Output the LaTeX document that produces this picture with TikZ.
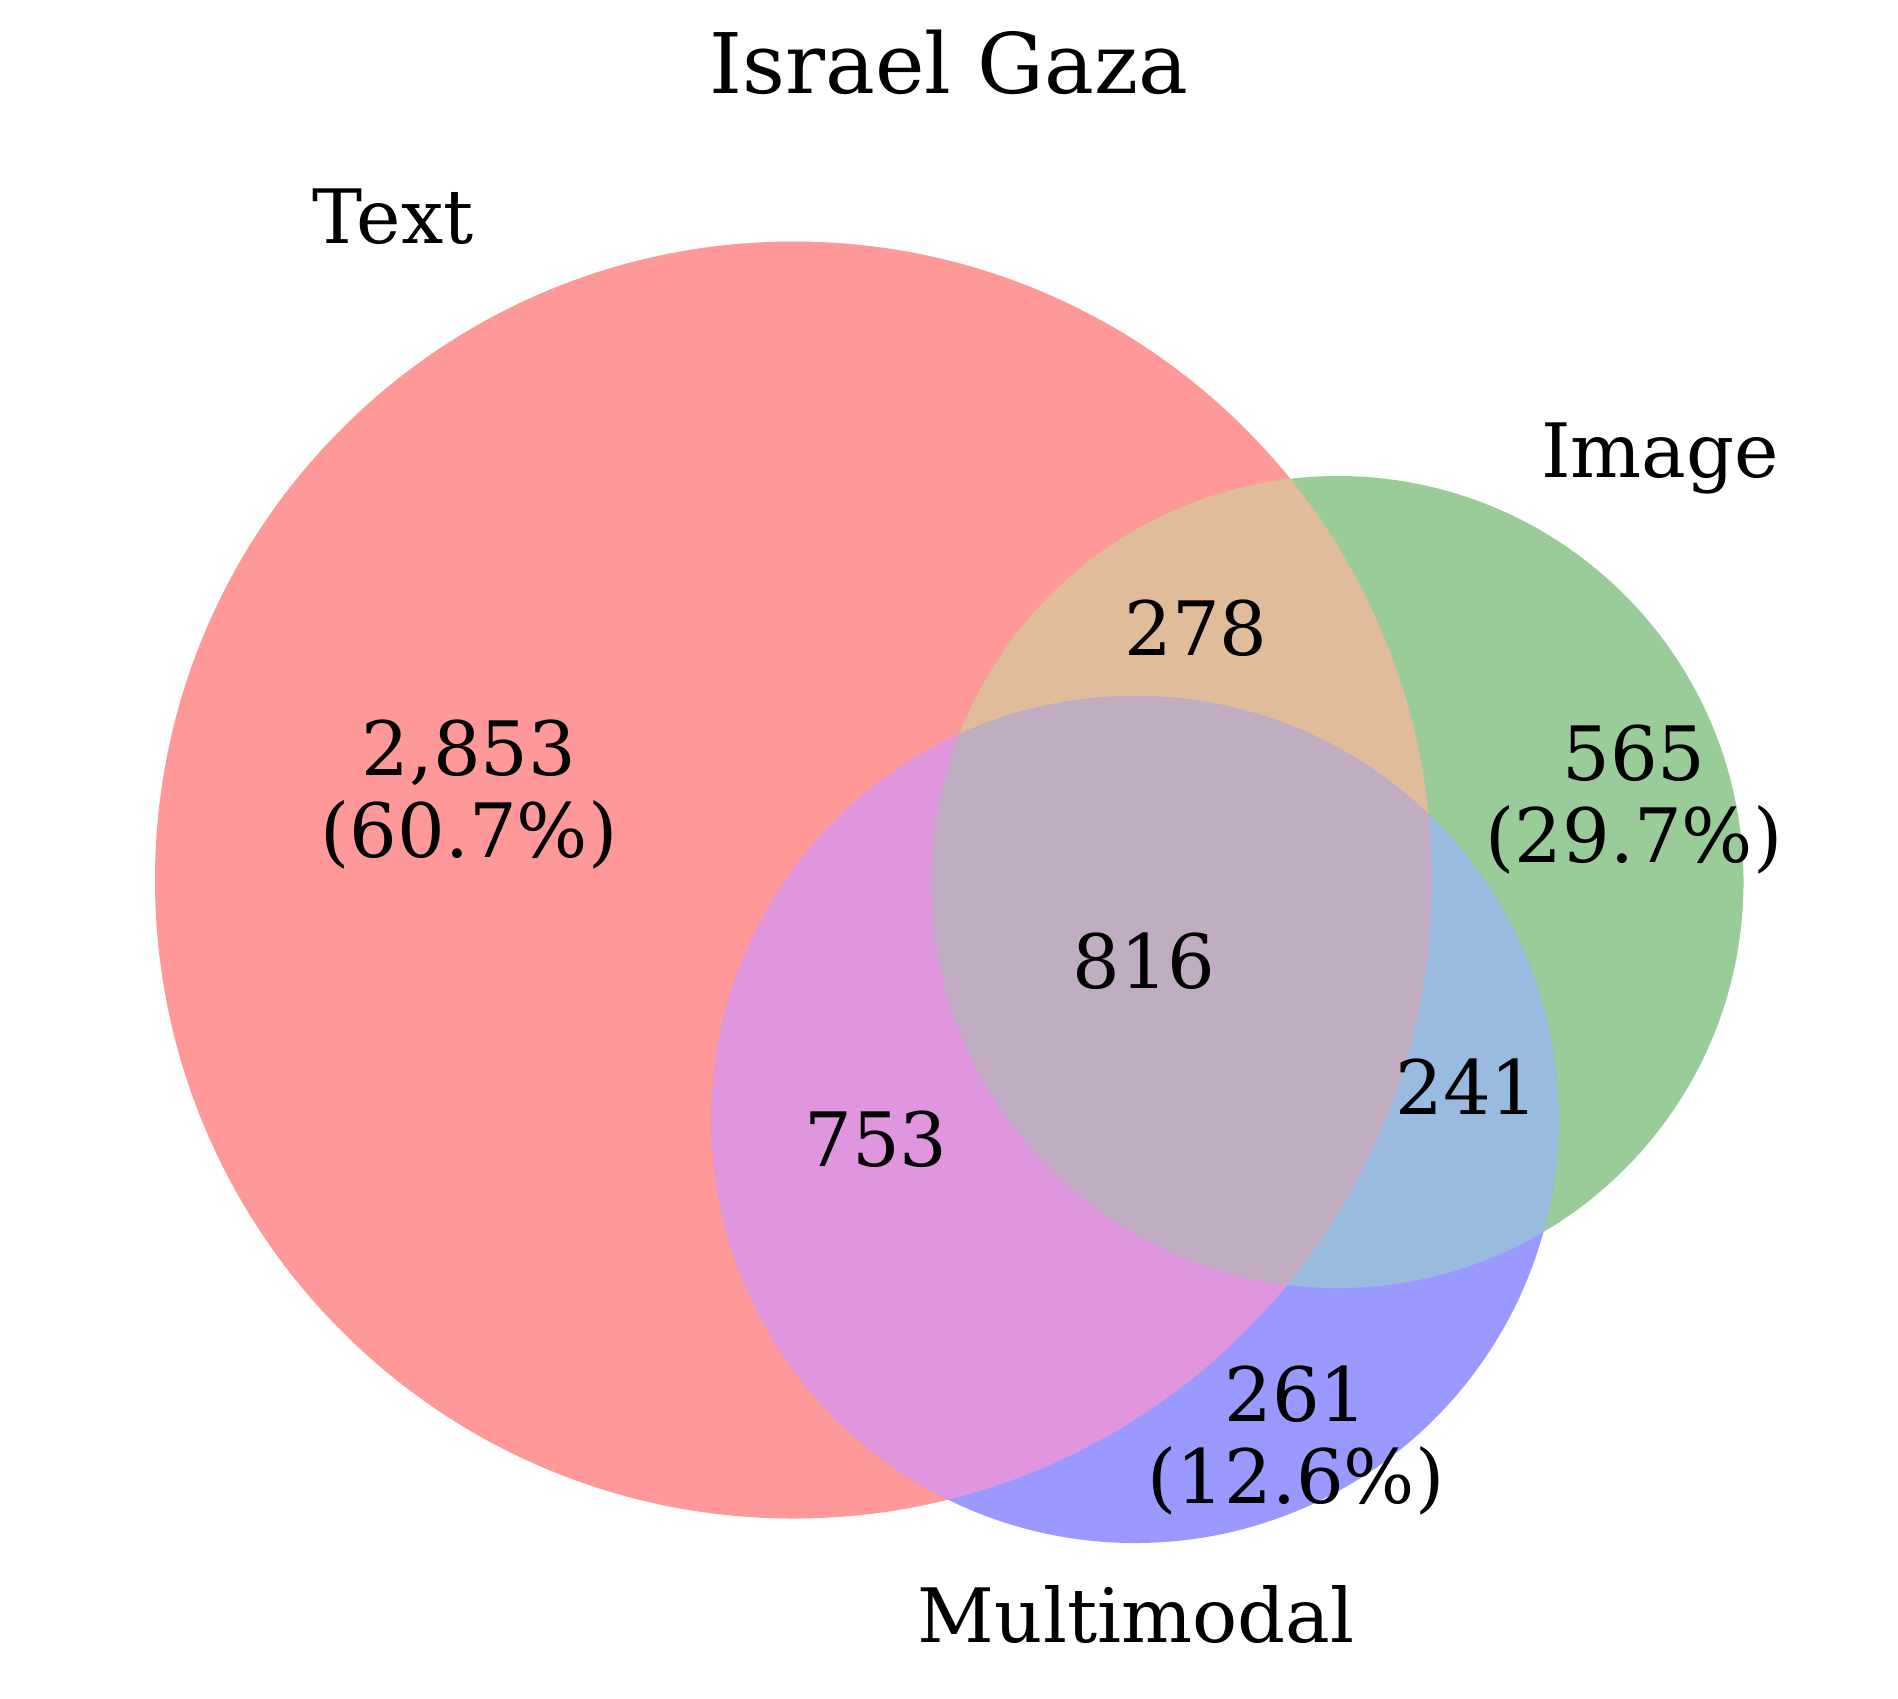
\documentclass[tikz,border=0pt]{standalone}
\usepackage{fontspec}
\setmainfont{DejaVu Serif}
\definecolor{cT}{HTML}{FF9898}
\definecolor{cI}{HTML}{99CC99}
\definecolor{cM}{HTML}{9999FF}
\definecolor{cTI}{HTML}{E0BC9A}
\definecolor{cTM}{HTML}{DF96DF}
\definecolor{cIM}{HTML}{9ABBE0}
\definecolor{cTIM}{HTML}{C0ADC2}
\tikzset{
  lbl/.style={anchor=base, inner sep=0pt, font=\fontsize{37.5}{41}\selectfont, align=center},
  ttl/.style={anchor=base, inner sep=0pt, font=\fontsize{41.8}{46}\selectfont}
}
\begin{document}
\begin{tikzpicture}[x=0.5pt,y=-0.5pt]
\useasboundingbox[fill=white] (0,0) rectangle (1898,1698);
\coordinate (cT) at (793.5,880);
\coordinate (cI) at (1337.5,882);
\coordinate (cM) at (1135,1119.5);
\def\rT{319.25pt}
\def\rI{203pt}
\def\rM{211.75pt}
\fill[cT] (cT) circle[radius=\rT];
\fill[cI] (cI) circle[radius=\rI];
\fill[cM] (cM) circle[radius=\rM];
\begin{scope}
  \clip (cT) circle[radius=\rT];
  \fill[cTI] (cI) circle[radius=\rI];
  \fill[cTM] (cM) circle[radius=\rM];
\end{scope}
\begin{scope}
  \clip (cI) circle[radius=\rI];
  \fill[cIM] (cM) circle[radius=\rM];
\end{scope}
\begin{scope}
  \clip (cT) circle[radius=\rT];
  \clip (cI) circle[radius=\rI];
  \fill[cTIM] (cM) circle[radius=\rM];
\end{scope}
\node[ttl] (title) at (949,93) {Israel Gaza};
\node[lbl] (lT) at (393,243) {Text};
\node[lbl] (lI) at (1660,477) {Image};
\node[lbl] (lM) at (1136,1642) {Multimodal};
\node[lbl] (n100) at (469,857) {2,853\\(60.7\%)};
\node[lbl] (n010) at (1634,862) {565\\(29.7\%)};
\node[lbl] (n001) at (1296,1503) {261\\(12.6\%)};
\node[lbl] (n110) at (1196,655) {278};
\node[lbl] (n111) at (1144,988) {816};
\node[lbl] (n101) at (876,1166) {753};
\node[lbl] (n011) at (1467,1114) {241};
\end{tikzpicture}
\end{document}
